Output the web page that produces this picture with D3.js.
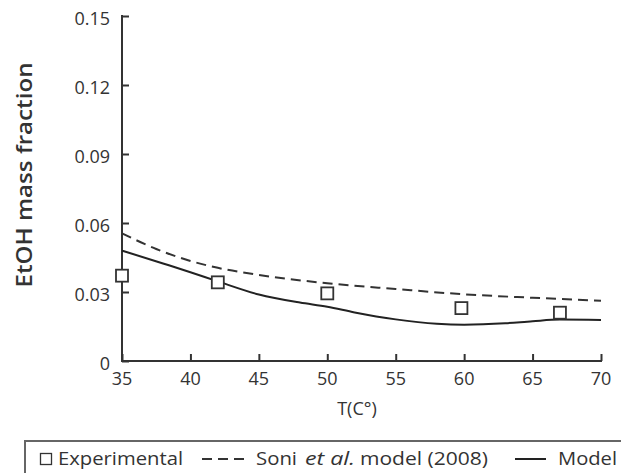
<!DOCTYPE html>
<html><head><meta charset="utf-8">
<script src="https://cdn.jsdelivr.net/npm/d3@7"></script>
<style>body{margin:0;background:#fff}svg{display:block}text{font-family:"Open Sans","DejaVu Sans",sans-serif;fill:#333}</style>
</head><body><svg id="c" width="621" height="473"></svg>
<script>
const xTicks=[35,40,45,50,55,60,65,70];
const yTicks=[0,0.03,0.06,0.09,0.12,0.15];
const yTickLabels=["0","0.03","0.06","0.09","0.12","0.15"];
const expT=[35,42,50,59.8,67];
const expY=[0.0371,0.0342,0.0294,0.0230,0.0210];
const soniT=[35,37.5,40,42,45,50,55,60,65,70];
const soniY=[0.0555,0.0487,0.0435,0.0405,0.0374,0.0338,0.0313,0.0290,0.0275,0.0262];
const modelT=[35,38,40,42,45,48,50,52,55,58,60,63,65,67,70];
const modelY=[0.0480,0.0424,0.0386,0.0346,0.0289,0.0254,0.0236,0.0211,0.0181,0.0162,0.0158,0.0164,0.0173,0.0180,0.0178];
const legendLabels=["Experimental","Soni","et al.","model (2008)","Model"];

const svg=d3.select("#c");
const x=d3.scaleLinear().domain([35,70]).range([122,601]);
const y=d3.scaleLinear().domain([0,0.15]).range([361,16]);
const col="#333";

const xa=svg.append("g").attr("transform","translate(0,361)")
 .call(d3.axisTop(x).tickValues(xTicks).tickSize(7).tickSizeOuter(0).tickFormat(""));
const ya=svg.append("g").attr("transform","translate(122,0)")
 .call(d3.axisRight(y).tickValues(yTicks).tickSize(7).tickSizeOuter(0).tickFormat(""));
[xa,ya].forEach(a=>{a.selectAll("path,line").attr("stroke",col).attr("stroke-width",2);});
ya.select(".domain").attr("d","M0,362V15");
xa.select(".domain").attr("d","M121,0H602");

svg.append("g").selectAll("text").data(xTicks).join("text")
 .attr("x",d=>x(d)).attr("y",385).attr("text-anchor","middle").attr("font-size",18).attr("fill","#444").text(d=>d);
svg.append("g").selectAll("text").data(yTicks).join("text")
 .attr("x",110).attr("y",d=>y(d)+9).attr("text-anchor","end").attr("font-size",18).attr("fill","#444").text((d,i)=>yTickLabels[i]);

svg.append("text").attr("x",357).attr("y",415).attr("text-anchor","middle").attr("font-size",18).text("T(C°)");
svg.append("text").attr("transform","translate(32,175) rotate(-90)").attr("text-anchor","middle")
 .attr("font-size",22).attr("font-weight",600).attr("textLength",225).attr("lengthAdjust","spacingAndGlyphs").text("EtOH mass fraction");

const line=d3.line().curve(d3.curveMonotoneX);
svg.append("path").attr("d",line(soniT.map((t,i)=>[x(t),y(soniY[i])])))
 .attr("fill","none").attr("stroke",col).attr("stroke-width",2).attr("stroke-dasharray","10,6");
svg.append("path").attr("d",line(modelT.map((t,i)=>[x(t),y(modelY[i])])))
 .attr("fill","none").attr("stroke","#222").attr("stroke-width",2);
svg.append("g").selectAll("rect").data(expT).join("rect")
 .attr("x",(d)=>x(d)-6).attr("y",(d,i)=>y(expY[i])-6).attr("width",12).attr("height",12)
 .attr("fill","#fff").attr("stroke",col).attr("stroke-width",1.8);

// legend
svg.append("rect").attr("x",25).attr("y",441).attr("width",620).attr("height",60)
 .attr("fill","none").attr("stroke","#666").attr("stroke-width",2);
svg.append("rect").attr("x",40.5).attr("y",453.5).attr("width",11).attr("height",11)
 .attr("fill","none").attr("stroke",col).attr("stroke-width",1.3);
const lt=(xp,len,s,it)=>svg.append("text").attr("x",xp).attr("y",465).attr("font-size",18)
 .attr("font-style",it?"italic":null).attr("textLength",len).attr("lengthAdjust","spacingAndGlyphs").text(s);
lt(58,125,legendLabels[0]);
svg.append("line").attr("x1",202).attr("x2",245).attr("y1",459).attr("y2",459)
 .attr("stroke",col).attr("stroke-width",2).attr("stroke-dasharray","10,6");
lt(256,41,legendLabels[1]);
lt(305,50,legendLabels[2],true);
lt(360,128,legendLabels[3]);
svg.append("line").attr("x1",515).attr("x2",546).attr("y1",459).attr("y2",459)
 .attr("stroke","#222").attr("stroke-width",2);
lt(558,59,legendLabels[4]);
</script></body></html>
